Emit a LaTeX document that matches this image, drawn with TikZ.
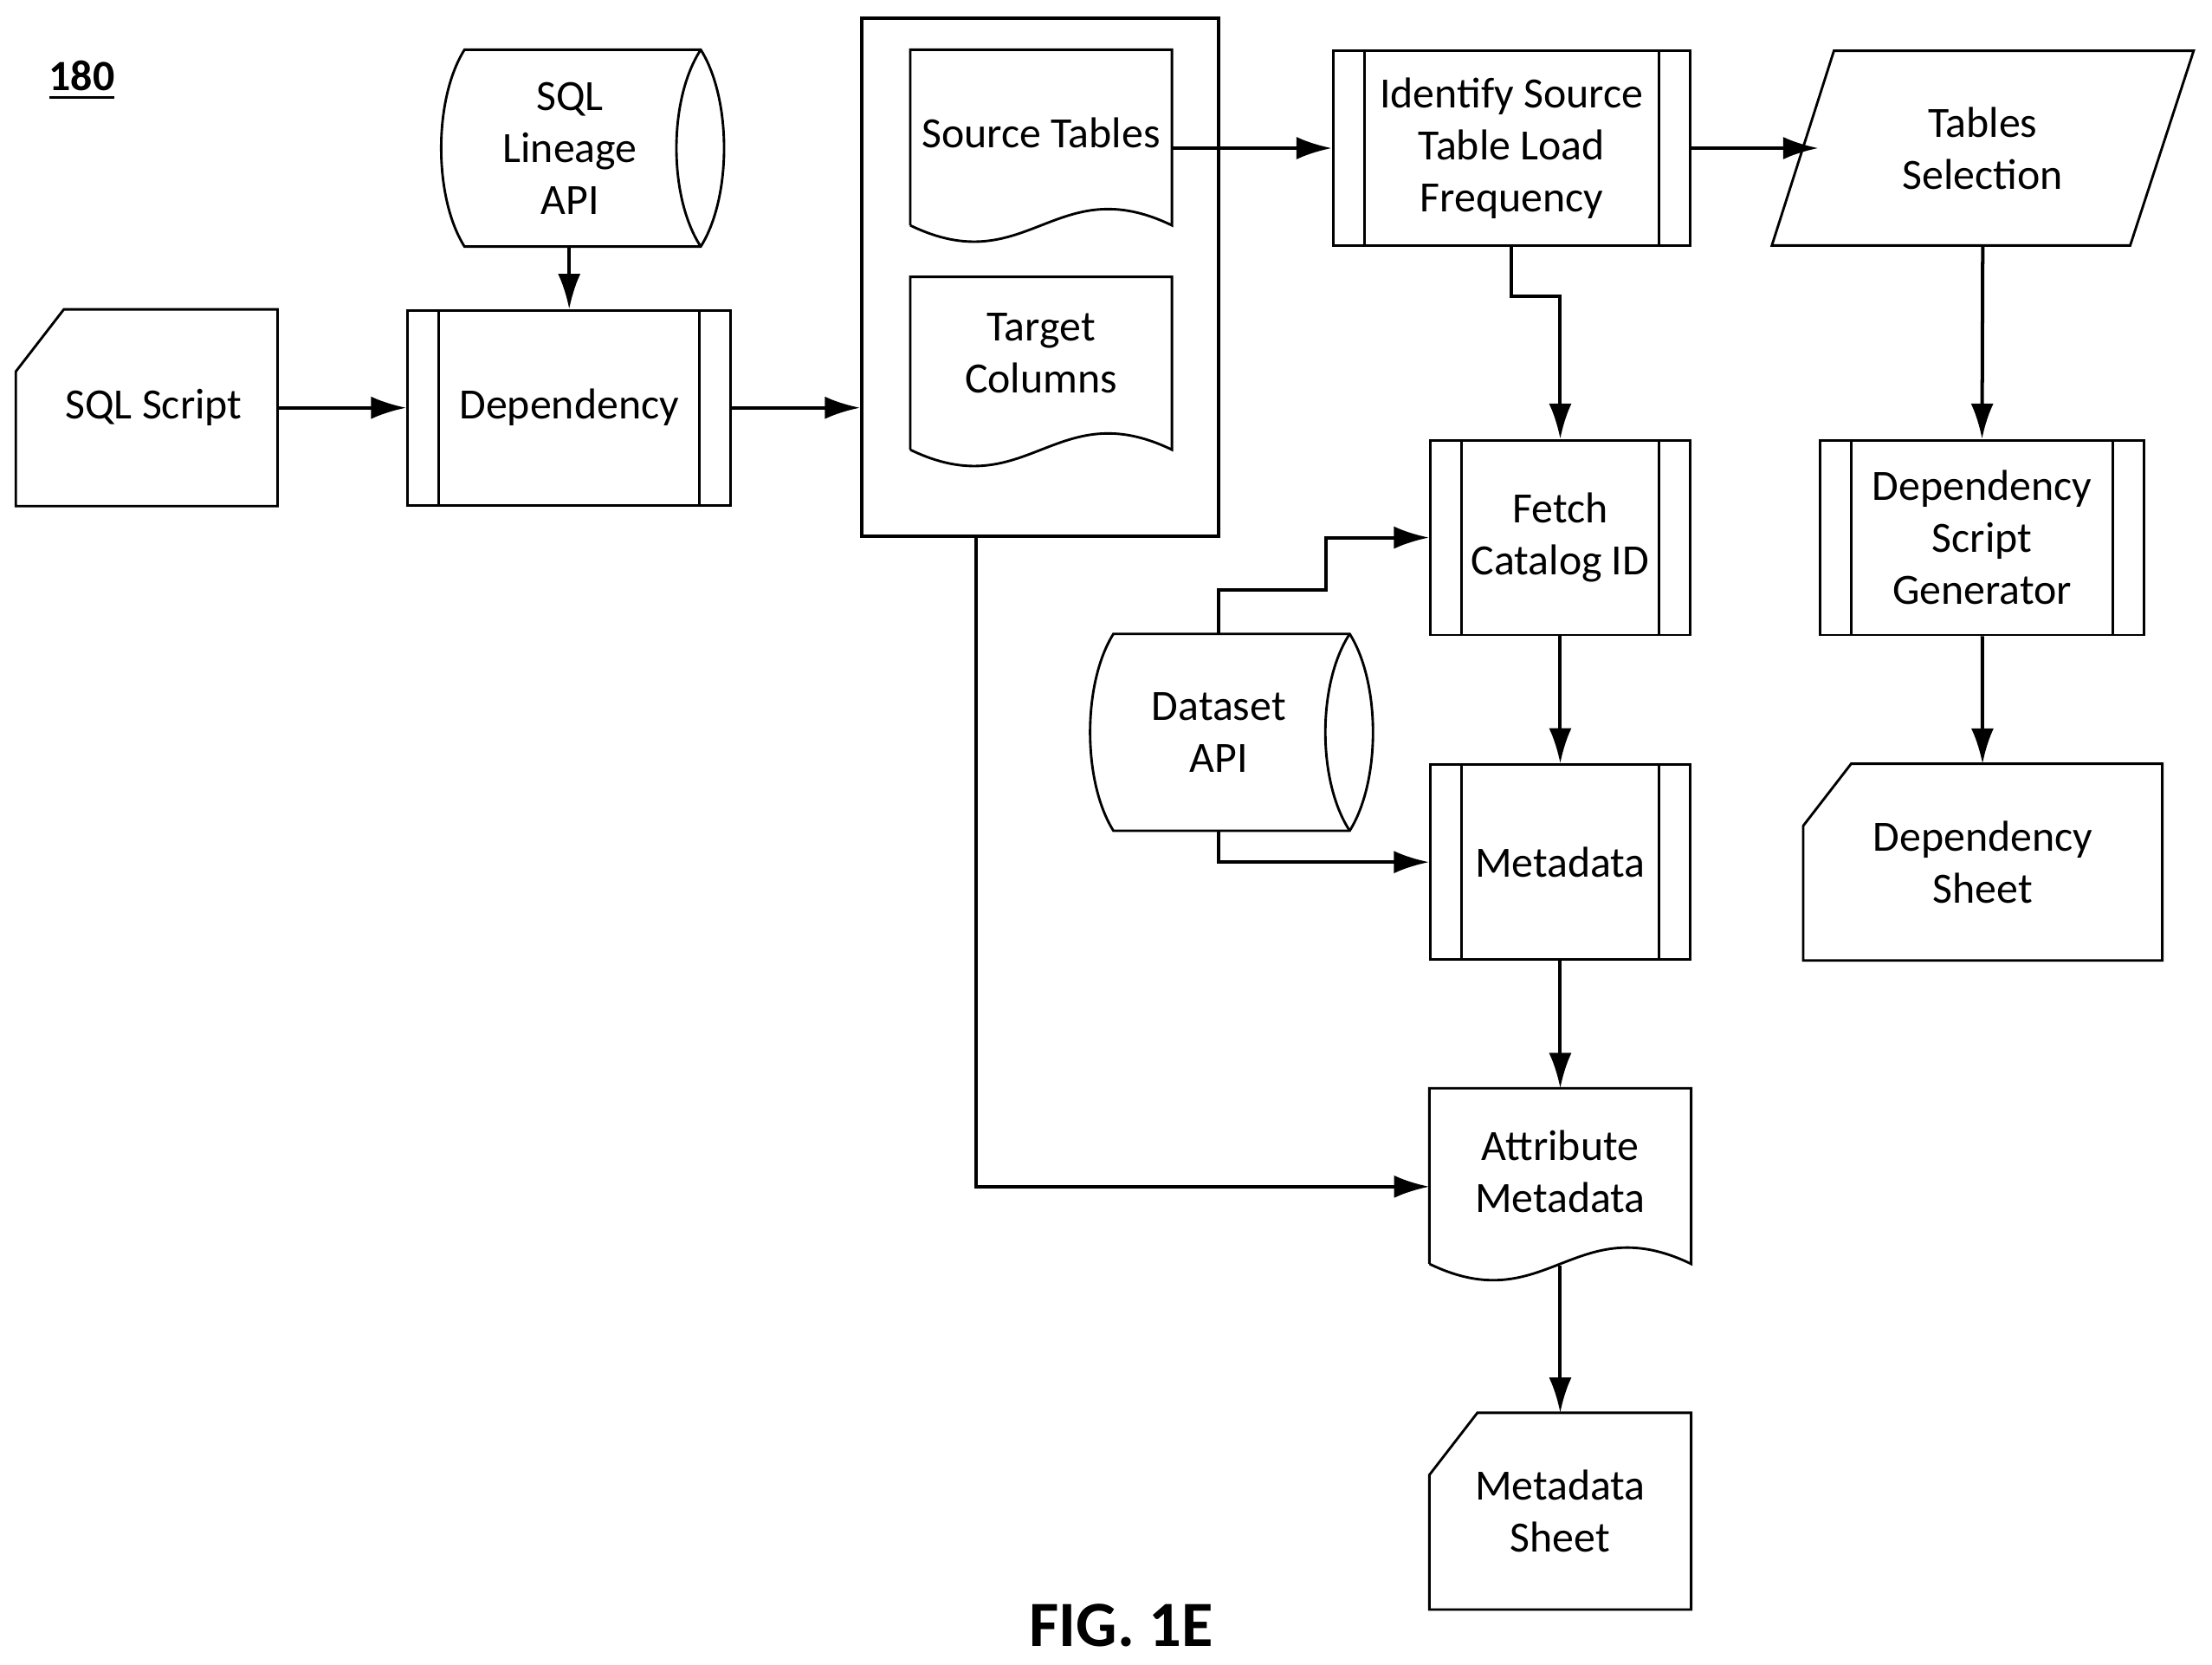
\documentclass[tikz,border=0pt]{standalone}
\usepackage{fontspec}
\setmainfont{Carlito}
\usetikzlibrary{arrows.meta,calc}

\tikzset{
  box/.style={minimum width=#1,minimum height=1.38cm,inner sep=1pt,align=center,
    font=\fontsize{8.7}{10.5}\selectfont},
  proc/.style={box=#1,draw,line width=0.5pt},
  flow/.style={-{Latex[length=0.25cm,width=0.16cm]},line width=0.7pt},
}
% inner bars of a process box
\newcommand\bars[1]{%
  \draw[line width=0.5pt] ($(#1.north west)+(0.23cm,0)$) -- ($(#1.south west)+(0.23cm,0)$)
    ($(#1.north east)-(0.23cm,0)$) -- ($(#1.south east)-(0.23cm,0)$);}
% card with cut corner
\newcommand\card[1]{%
  \draw[line width=0.5pt] ($(#1.north west)+(0.34cm,0)$) -- (#1.north east) -- (#1.south east)
    -- (#1.south west) -- ($(#1.north west)-(0,0.44cm)$) -- cycle;}
% document with wavy foot
\newcommand\docu[1]{%
  \draw[line width=0.5pt] ($(#1.south west)+(0,0.15cm)$) -- (#1.north west) -- (#1.north east)
    -- ($(#1.south east)+(0,0.15cm)$)
    .. controls ($(#1.south)+(0.1cm,0.55cm)$) and ($(#1.south)-(0.1cm,0.25cm)$)
    .. ($(#1.south west)+(0,0.15cm)$);}
% drum storage
\newcommand\drum[1]{%
  \draw[line width=0.5pt] ($(#1.north west)+(0.17cm,0)$) -- ($(#1.north east)-(0.17cm,0)$)
    .. controls ($(#1.north east)+(0.05cm,-0.35cm)$) and ($(#1.south east)+(0.05cm,0.35cm)$)
    .. ($(#1.south east)-(0.17cm,0)$) -- ($(#1.south west)+(0.17cm,0)$)
    .. controls ($(#1.south west)+(-0.05cm,0.35cm)$) and ($(#1.north west)+(-0.05cm,-0.35cm)$)
    .. cycle;
  \draw[line width=0.5pt] ($(#1.north east)-(0.17cm,0)$)
    .. controls ($(#1.north east)+(-0.4cm,-0.35cm)$) and ($(#1.south east)+(-0.4cm,0.35cm)$)
    .. ($(#1.south east)-(0.17cm,0)$);}

\begin{document}
\begin{tikzpicture}[x=0.01cm,y=-0.01cm]
\useasboundingbox (0,0) rectangle (1568,1180);

\node[font=\fontsize{8.7}{10.5}\selectfont\bfseries] (num) at (58,57) {\underline{180}};
\node[font=\fontsize{13}{16}\selectfont\bfseries] (fig) at (795,1152) {FIG. 1E};

% left part
\node[box=2cm] (lineage) at (413,105) {\hspace*{-0.18cm}SQL\\\hspace*{-0.18cm}Lineage\\\hspace*{-0.18cm}API};
\drum{lineage}
\node[box=1.84cm] (script) at (104,289) {\hspace*{0.1cm}SQL Script};
\card{script}
\node[proc=2.29cm] (dep) at (403.5,289) {Dependency};
\bars{dep}

% outer container
\node[draw,line width=0.7pt,minimum width=2.53cm,minimum height=3.67cm] (group) at (737.5,196.5) {};
\node[box=1.84cm] (src) at (738,105) {\\[-0.5cm]Source Tables};
\docu{src}
\node[box=1.84cm,minimum height=1.36cm] (tgt) at (738,265) {Target\\Columns\\[-0.07cm]\mbox{}};
\docu{tgt}

% upper chain
\node[proc=2.53cm] (freq) at (1071.5,105) {Identify Source\\Table Load\\Frequency};
\bars{freq}
\node[box=2.99cm] (sel) at (1405.5,105) {Tables\\Selection};
\draw[line width=0.5pt] (1300,36) -- (1555,36) -- (1510,174) -- (1256,174) -- cycle;
\coordinate (selin) at (1289,105);

\node[proc=1.84cm] (fetch) at (1106,381) {Fetch\\Catalog ID};
\bars{fetch}
\node[proc=2.3cm] (gen) at (1405,381) {Dependency\\Script\\Generator};
\bars{gen}
\node[box=2cm] (dset) at (873,519) {\hspace*{-0.18cm}Dataset\\\hspace*{-0.18cm}API};
\drum{dset}
\node[proc=1.84cm] (meta) at (1106,611) {Metadata};
\bars{meta}
\node[box=2.53cm] (dsheet) at (1405.5,611) {Dependency\\Sheet};
\card{dsheet}
\node[box=1.84cm] (attr) at (1106,841) {\\[-0.5cm]Attribute\\Metadata};
\docu{attr}
\node[box=1.84cm] (msheet) at (1106,1071) {Metadata\\Sheet};
\card{msheet}

% connectors
\draw[flow] (lineage.south -| dep.north) -- (dep.north);
\draw[flow] (script) -- (dep);
\draw[flow] (dep) -- (group.west |- dep);
\draw[flow] (src.east) -- (freq.west);
\draw[flow] (freq) -- (selin);
\draw[flow] (freq.south) -- ++(0,35) -| (fetch.north);
\draw[flow] (sel.south) -- (gen.north);
\draw[flow] (864,450) -- (864,418) -- (940,418) |- (fetch.west);
\draw[flow] (864,588) |- (meta.west);
\draw[flow] (fetch) -- (meta);
\draw[flow] (meta) -- (attr);
\draw[flow] (1106,897) -- (msheet.north);
\draw[flow] (gen) -- (dsheet);
\draw[flow] (group.south -| 692,0) |- (attr.west);
\end{tikzpicture}
\end{document}
